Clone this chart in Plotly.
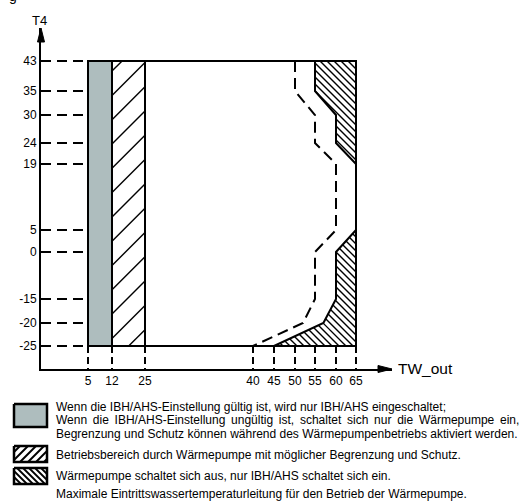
import numpy as np
import plotly.graph_objects as go

W, H = 531, 504

# ---------------- data ----------------
X_TICKS = [5, 12, 25, 40, 45, 50, 55, 60, 65]          # TW_out
Y_TICKS = [43, 35, 30, 24, 19, 5, 0, -15, -20, -25]     # T4

T4_MIN, T4_MAX = -25, 43
TW_MIN, TW_MAX = 5, 65

IBH_TW = [5, 12]            # IBH/AHS zone
LIMIT_TW = [12, 25]         # heat pump with limitation/protection

OFF_TOP_TW = [55, 65, 65, 60, 60, 55]
OFF_TOP_T4 = [43, 43, 19, 24, 30, 35]
OFF_BOT_TW = [65, 65, 45, 57, 60, 60]
OFF_BOT_T4 = [5, -25, -25, -20, -15, 0]

MAXLINE_TW = [50, 50, 55, 55, 60, 60, 55, 55, 52, 40]
MAXLINE_T4 = [43, 35, 30, 24, 19, 5, 0, -15, -20, -25]

SP = " \u2009"  # widened word gap (justified line)
LEGEND_TEXT = [
    "Wenn die IBH/AHS-Einstellung gültig ist, wird nur IBH/AHS eingeschaltet;",
    SP.join("Wenn die IBH/AHS-Einstellung ungültig ist, schaltet sich nur die Wärmepumpe ein,".split(" ")),
    "Begrenzung und Schutz können während des Wärmepumpenbetriebs aktiviert werden.",
    "Betriebsbereich durch Wärmepumpe mit möglicher Begrenzung und Schutz.",
    "Wärmepumpe schaltet sich aus, nur IBH/AHS schaltet sich ein.",
    "Maximale Eintrittswassertemperaturleitung für den Betrieb der Wärmepumpe.",
]

# ---------------- layout (schematic, non-uniform scale) ----------------
X_POS = [88, 112, 145, 253, 274, 295, 315, 336, 356]
Y_POS = [61, 91, 115, 143, 164, 230, 252, 299, 323, 346]
AX_LEFT, AX_RIGHT, AX_TOP, AX_BOTTOM = 41, 392, 28, 369


def fx(v):
    return [float(a) for a in np.atleast_1d(np.interp(v, X_TICKS, X_POS))]


def fy(v):
    return [float(a) for a in np.atleast_1d(np.interp(v, Y_TICKS[::-1], Y_POS[::-1]))]


def hatch(px, py, spacing, kind, c0=0.0):
    """Diagonal hatch segments clipped to polygon (screen-like units, y down)."""
    n = len(px)
    sgn = 1.0 if kind == "/" else -1.0   # '/' : x + y = c ; '\' : y - x = c
    s = [sgn * px[i] + py[i] for i in range(n)]
    lo, hi = min(s), max(s)
    k0 = int(np.floor((lo - c0) / spacing))
    k1 = int(np.ceil((hi - c0) / spacing))
    xs, ys = [], []
    for k in range(k0, k1 + 1):
        c = c0 + k * spacing
        hits = []
        for i in range(n):
            j = (i + 1) % n
            a, b = s[i], s[j]
            if (a <= c < b) or (b <= c < a):
                t = (c - a) / (b - a)
                hits.append(px[i] + t * (px[j] - px[i]))
        hits.sort()
        for m in range(0, len(hits) - 1, 2):
            x0, x1 = hits[m], hits[m + 1]
            xs += [x0, x1, None]
            ys += [c - sgn * x0, c - sgn * x1, None]
    return xs, ys


FONT = "Liberation Sans, Arial, sans-serif"
GRAY = "#aebdbe"

fig = go.Figure()


def poly(px, py, fill, xa="x", ya="y"):
    fig.add_trace(go.Scatter(x=px + px[:1], y=py + py[:1], xaxis=xa, yaxis=ya,
                             mode="lines", fill="toself", fillcolor=fill,
                             line=dict(color="rgba(0,0,0,0)", width=0), hoverinfo="skip"))


def outline(px, py, xa="x", ya="y", width=2):
    fig.add_trace(go.Scatter(x=px + px[:1], y=py + py[:1], xaxis=xa, yaxis=ya,
                             mode="lines", line=dict(color="black", width=width),
                             hoverinfo="skip"))


def hatch_trace(px, py, spacing, kind, width, c0=0.0, xa="x", ya="y"):
    hx, hy = hatch(px, py, spacing, kind, c0)
    fig.add_trace(go.Scatter(x=hx, y=hy, xaxis=xa, yaxis=ya, mode="lines",
                             line=dict(color="black", width=width), hoverinfo="skip"))


# dashed guide lines (from axes to the diagram)
gx, gy = [], []
for t in Y_TICKS:
    gx += [AX_LEFT, fx(TW_MIN)[0], None]
    gy += [fy(t)[0], fy(t)[0], None]
fig.add_trace(go.Scatter(x=gx, y=gy, mode="lines",
                         line=dict(color="black", width=2, dash="10px,6px"),
                         hoverinfo="skip"))
vx, vy = [], []
for t in X_TICKS:
    vx += [fx(t)[0], fx(t)[0], None]
    vy += [fy(T4_MIN)[0], AX_BOTTOM, None]
fig.add_trace(go.Scatter(x=vx, y=vy, mode="lines",
                         line=dict(color="black", width=2, dash="7px,4px"),
                         hoverinfo="skip"))

# IBH/AHS zone
ibx = fx([IBH_TW[0], IBH_TW[1], IBH_TW[1], IBH_TW[0]])
iby = fy([T4_MIN, T4_MIN, T4_MAX, T4_MAX])
poly(ibx, iby, GRAY)
outline(ibx, iby)

# limited heat pump zone
lmx = fx([LIMIT_TW[0], LIMIT_TW[1], LIMIT_TW[1], LIMIT_TW[0]])
lmy = fy([T4_MIN, T4_MIN, T4_MAX, T4_MAX])
hatch_trace(lmx, lmy, 24.3, "/", 1.4, c0=280.3)
outline(lmx, lmy)

# heat pump off zones
for tw, t4 in [(OFF_TOP_TW, OFF_TOP_T4), (OFF_BOT_TW, OFF_BOT_T4)]:
    ox, oy = fx(tw), fy(t4)
    hatch_trace(ox, oy, 7.0, "\\", 1.4)
    outline(ox, oy)

# outer frame
fig.add_trace(go.Scatter(
    x=fx([LIMIT_TW[1], TW_MAX, TW_MAX, LIMIT_TW[1]]),
    y=fy([T4_MAX, T4_MAX, T4_MIN, T4_MIN]),
    mode="lines", line=dict(color="black", width=2), hoverinfo="skip"))

# maximum inlet water temperature line
fig.add_trace(go.Scatter(
    x=fx(MAXLINE_TW), y=fy(MAXLINE_T4), mode="lines",
    line=dict(color="black", width=2, dash="11px,6px"), hoverinfo="skip"))

# ---------------- legend swatches (page overlay axes, pixel units) ----------------
def box(x0, x1, y0, y1):
    return [x0, x1, x1, x0], [y0, y0, y1, y1]

bx, by = box(14, 47, 404, 427)
poly(bx, by, GRAY, "x2", "y2")
outline(bx, by, "x2", "y2", 2.5)
bx, by = box(14, 47, 446, 462)
hatch_trace(bx, by, 8.0, "/", 2.0, c0=2.0, xa="x2", ya="y2")
outline(bx, by, "x2", "y2", 2.5)
bx, by = box(14, 47, 468, 484)
hatch_trace(bx, by, 6.0, "\\", 1.8, c0=1.0, xa="x2", ya="y2")
outline(bx, by, "x2", "y2", 2.5)

# axis arrowheads
shapes = [
    dict(type="path", xref="x2", yref="y2",
         path=f"M{AX_LEFT-3.5},{AX_TOP+14} L{AX_LEFT},{AX_TOP} L{AX_LEFT+3.5},{AX_TOP+14} Z",
         fillcolor="black", line=dict(color="black", width=1)),
    dict(type="path", xref="x2", yref="y2",
         path=f"M{AX_RIGHT-14},{AX_BOTTOM-3.5} L{AX_RIGHT},{AX_BOTTOM} L{AX_RIGHT-14},{AX_BOTTOM+3.5} Z",
         fillcolor="black", line=dict(color="black", width=1)),
]

ann = [
    dict(x=39, y=20, xref="x2", yref="y2", text="T4", showarrow=False,
         font=dict(size=13, family=FONT, color="black")),
    dict(x=396, y=368, xref="x2", yref="y2", text="TW_out", showarrow=False,
         xanchor="left", font=dict(size=15.5, family=FONT, color="black")),
    dict(x=13, y=1, xref="x2", yref="paper", text="g", showarrow=False,
         yanchor="bottom", yshift=-6, font=dict(size=14, family=FONT, color="black")),
]
LEG_Y = [406.5, 420, 433.5, 455, 476, 494]
for t, yy in zip(LEGEND_TEXT, LEG_Y):
    ann.append(dict(x=54, y=yy, xref="x2", yref="y2", text=t, showarrow=False,
                    xanchor="left", yanchor="middle",
                    font=dict(size=12, family=FONT, color="black")))

fig.update_layout(
    width=W, height=H,
    margin=dict(l=0, r=0, t=0, b=0),
    paper_bgcolor="white", plot_bgcolor="rgba(0,0,0,0)",
    showlegend=False,
    shapes=shapes, annotations=ann,
    xaxis=dict(domain=[AX_LEFT / W, AX_RIGHT / W], range=[AX_LEFT, AX_RIGHT],
               showline=True, linecolor="black", linewidth=2, showgrid=False,
               zeroline=False, ticks="", tickvals=X_POS,
               ticktext=[str(v) for v in X_TICKS],
               tickfont=dict(size=12, family=FONT, color="black"),
               anchor="y", fixedrange=True),
    yaxis=dict(domain=[1 - AX_BOTTOM / H, 1 - AX_TOP / H], range=[AX_BOTTOM, AX_TOP],
               showline=True, linecolor="black", linewidth=2, showgrid=False,
               zeroline=False, ticks="", tickvals=Y_POS,
               ticktext=[str(v) for v in Y_TICKS],
               tickfont=dict(size=12, family=FONT, color="black"),
               anchor="x", fixedrange=True),
    xaxis2=dict(domain=[0, 1], range=[0, W], visible=False, anchor="y2", fixedrange=True),
    yaxis2=dict(domain=[0, 1], range=[H, 0], visible=False, anchor="x2", fixedrange=True),
)

fig.write_html("out.html", config={"displayModeBar": False, "staticPlot": True},
               post_script="document.body.style.margin='0px';document.body.style.overflow='hidden';")
